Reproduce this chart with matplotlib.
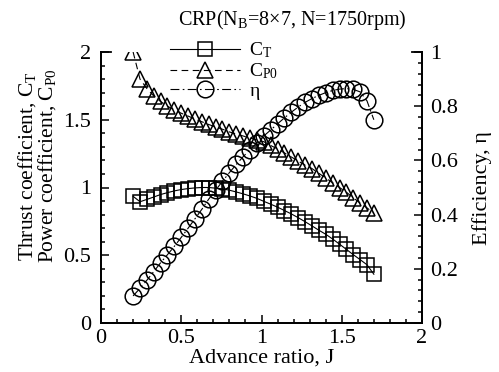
import matplotlib
matplotlib.use("Agg")
import matplotlib.pyplot as plt
from matplotlib.ticker import MultipleLocator

J = [0.2, 0.243, 0.286, 0.329, 0.371, 0.414, 0.457, 0.5, 0.543, 0.586,
     0.629, 0.671, 0.714, 0.757, 0.8, 0.843, 0.886, 0.929, 0.971, 1.014,
     1.057, 1.1, 1.143, 1.186, 1.229, 1.271, 1.314, 1.357, 1.4, 1.443,
     1.486, 1.529, 1.571, 1.614, 1.657, 1.7]
CT = [0.935, 0.895, 0.912, 0.93, 0.948, 0.962, 0.975, 0.985, 0.992, 0.997,
      1.0, 1.0, 0.995, 0.99, 0.98, 0.967, 0.953, 0.937, 0.92, 0.898,
      0.877, 0.855, 0.83, 0.805, 0.777, 0.748, 0.717, 0.685, 0.655, 0.62,
      0.582, 0.543, 0.505, 0.468, 0.43, 0.36]
CP0 = [2.0, 1.80, 1.73, 1.675, 1.635, 1.60, 1.573, 1.548, 1.527, 1.505,
       1.485, 1.465, 1.447, 1.43, 1.41, 1.395, 1.38, 1.365, 1.352, 1.338,
       1.31, 1.285, 1.255, 1.225, 1.195, 1.165, 1.14, 1.105, 1.07, 1.035,
       1.0, 0.965, 0.925, 0.885, 0.85, 0.81]
ETA = [0.10, 0.128, 0.158, 0.19, 0.222, 0.252, 0.283, 0.316, 0.35, 0.385,
       0.42, 0.457, 0.49, 0.523, 0.555, 0.585, 0.614, 0.64, 0.665, 0.69,
       0.712, 0.735, 0.757, 0.778, 0.797, 0.814, 0.828, 0.84, 0.85, 0.858,
       0.863, 0.865, 0.862, 0.853, 0.82, 0.75]

plt.rcParams['font.family'] = ['Liberation Serif', 'DejaVu Serif']
plt.rcParams['mathtext.fontset'] = 'custom'
plt.rcParams['mathtext.rm'] = 'Liberation Serif'
plt.rcParams['mathtext.it'] = 'Liberation Serif:italic'
plt.rcParams['font.size'] = 16

W, H = 499, 372
fig = plt.figure(figsize=(W / 100, H / 100), dpi=100)
ax = fig.add_axes([101 / W, (H - 323) / H, (422 - 101) / W, (323 - 52) / H])
ax2 = ax.twinx()

lw = 0.8
l1, = ax.plot(J, CT, color='k', lw=lw, ls='-', marker='s', ms=9.5,
              mfc='none', mec='k', mew=1.1, label=r'C$_{\mathrm{T}}$')
l2, = ax.plot(J, CP0, color='k', lw=lw, ls=(0, (6, 4)), marker='^', ms=11,
              mfc='none', mec='k', mew=1.1, label=r'C$_{\mathrm{P0}}$')
l3, = ax2.plot(J, ETA, color='k', lw=lw, ls=(0, (8, 3, 1.5, 3)), marker='o',
               ms=12, mfc='none', mec='k', mew=1.1, label='η')

ax.set_xlim(0, 2)
ax.set_ylim(0, 2)
ax2.set_ylim(0, 1)
ax.xaxis.set_major_locator(MultipleLocator(0.5))
ax.xaxis.set_minor_locator(MultipleLocator(0.1))
ax.yaxis.set_major_locator(MultipleLocator(0.5))
ax.yaxis.set_minor_locator(MultipleLocator(0.1))
ax2.yaxis.set_major_locator(MultipleLocator(0.2))
ax2.yaxis.set_minor_locator(MultipleLocator(0.04))
fmt = plt.FuncFormatter(lambda v, p: f'{v:g}')
ax.xaxis.set_major_formatter(fmt)
ax.yaxis.set_major_formatter(fmt)
ax2.yaxis.set_major_formatter(fmt)

for a in (ax, ax2):
    a.tick_params(which='both', direction='in', width=1.1)
    a.tick_params(which='major', length=6, labelsize=16)
    a.tick_params(which='minor', length=3)
    for s in a.spines.values():
        s.set_linewidth(1.3)
    a.spines['top'].set_visible(False)
ax.tick_params(top=False, right=False)
ax.tick_params(axis='y', pad=7)
ax.tick_params(axis='x', pad=4)
ax2.tick_params(top=False, left=False, pad=6)

# short top spine stubs at both corners
for x0, x1 in [(0, 0.03), (0.97, 1.0)]:
    ax.plot([x0, x1], [1, 1], transform=ax.transAxes, color='k', lw=1.3,
            clip_on=False, solid_capstyle='projecting')

fig.text(262 / W, 1 - 358 / H, 'Advance ratio, J', ha='center', va='center')
fig.text(37 / W, 1 - 166 / H,
         'Thrust coefficient, C$_{\\mathrm{T}}$\n'
         'Power coefficient, C$_{\\mathrm{P0}}$',
         ha='center', va='center', rotation=90, linespacing=0.9,
         fontsize=15.5)
fig.text(482 / W, 1 - 188 / H, 'Efficiency, η', ha='center', va='center',
         rotation=90)
fig.text(292 / W, 1 - 20 / H, 'CRP(N$_{\\mathrm{B}}$=8×7, N=1750rpm)',
         ha='center', va='center', fontsize=14.5)

leg = ax2.legend(handles=[l1, l2, l3], loc='upper left',
                 bbox_to_anchor=(160 / W, 1 - 31 / H),
                 bbox_transform=fig.transFigure, frameon=False,
                 handlelength=3.6, handletextpad=0.5, labelspacing=0.05,
                 numpoints=1, borderpad=0, fontsize=14)

fig.savefig('out.png', dpi=100)
